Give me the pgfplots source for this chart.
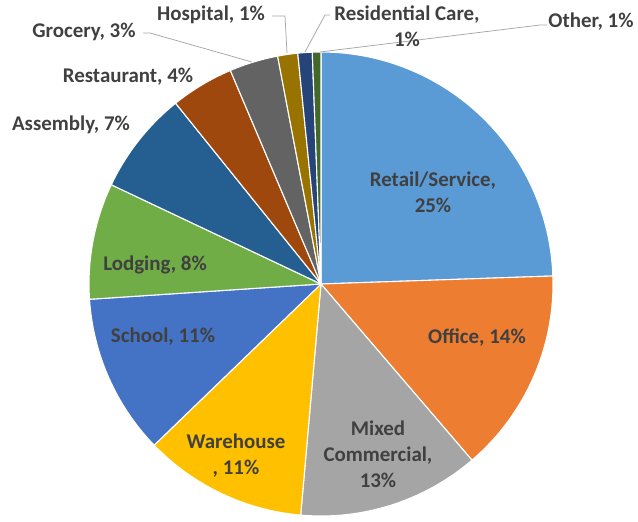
\documentclass[border=0pt]{standalone}
\usepackage{pgfplots}
\pgfplotsset{compat=1.18}
\usepackage{pgfplotstable}
\usepackage{fontspec}
\setmainfont{Carlito}

\definecolor{cRetail}{HTML}{5B9BD5}
\definecolor{cOffice}{HTML}{ED7D31}
\definecolor{cMixed}{HTML}{A5A5A5}
\definecolor{cWare}{HTML}{FFC000}
\definecolor{cSchool}{HTML}{4472C4}
\definecolor{cLodg}{HTML}{70AD47}
\definecolor{cAssem}{HTML}{255E91}
\definecolor{cRest}{HTML}{9E480E}
\definecolor{cGroc}{HTML}{636363}
\definecolor{cHosp}{HTML}{997300}
\definecolor{cResid}{HTML}{264478}
\definecolor{cOther}{HTML}{43682B}
\definecolor{lbl}{HTML}{404040}
\definecolor{leader}{HTML}{A6A6A6}

\pgfplotstableread[col sep=comma]{
label,value,color
Retail/Service,24.5,cRetail
Office,14.3,cOffice
Mixed Commercial,12.7,cMixed
Warehouse,11.4,cWare
School,11.2,cSchool
Lodging,8.1,cLodg
Assembly,7.2,cAssem
Restaurant,4.4,cRest
Grocery,3.4,cGroc
Hospital,1.4,cHosp
Residential Care,1.0,cResid
Other,0.6,cOther
}\piedata

\gdef\total{0}
\pgfplotstableforeachcolumnelement{value}\of\piedata\as\v{%
  \pgfmathsetmacro\t{\total+\v}\xdef\total{\t}}

\newcommand\piecx{321}
\newcommand\piecy{230}

\begin{document}
\begin{tikzpicture}
\begin{axis}[
  width=638bp, height=514bp, scale only axis,
  xmin=0, xmax=638, ymin=0, ymax=514,
  axis lines=none, clip=false,
]
\path (axis cs:0,0) rectangle (axis cs:638,514);
\gdef\curang{90}
\pgfplotsforeachungrouped \i in {0,...,11}{%
  \pgfplotstablegetelem{\i}{value}\of\piedata \let\v\pgfplotsretval
  \pgfplotstablegetelem{\i}{color}\of\piedata \let\c\pgfplotsretval
  \pgfmathsetmacro\endang{\curang - \v/\total*360}%
  \edef\temp{\noexpand\fill[\c, draw=white, line width=1.1pt, line join=round]
    (axis cs:\piecx,\piecy) -- ++(\curang:232bp)
    arc[start angle=\curang, end angle=\endang, radius=232bp] -- cycle;}%
  \temp
  \xdef\curang{\endang}%
}
\draw[leader, line width=0.75pt] (axis cs:143,481) -- (axis cs:150,481) -- (axis cs:252,452);
\draw[leader, line width=0.75pt] (axis cs:272,498) -- (axis cs:285,498) -- (axis cs:287,461);
\draw[leader, line width=0.75pt] (axis cs:330,499) -- (axis cs:325,499) -- (axis cs:305,462);
\draw[leader, line width=0.75pt] (axis cs:547,489) -- (axis cs:540,489) -- (axis cs:320,462);

\tikzset{lab/.style={text=lbl, font=\bfseries\fontsize{21}{26}\selectfont, align=center, inner sep=0pt}}
\node[lab] at (axis cs:433,322) {Retail/Service,\\25\%};
\node[lab] at (axis cs:477,176) {Office, 14\%};
\node[lab] at (axis cs:378,60) {Mixed\\Commercial,\\13\%};
\node[lab] at (axis cs:236,58) {Warehouse\\, 11\%};
\node[lab] at (axis cs:163,177) {School, 11\%};
\node[lab] at (axis cs:155,249) {Lodging, 8\%};
\node[lab] at (axis cs:71,389) {Assembly, 7\%};
\node[lab] at (axis cs:128,437) {Restaurant, 4\%};
\node[lab] at (axis cs:84,482) {Grocery, 3\%};
\node[lab] at (axis cs:211,499) {Hospital, 1\%};
\node[lab] at (axis cs:407,488) {Residential Care,\\1\%};
\node[lab] at (axis cs:591,492) {Other, 1\%};
\end{axis}
\end{tikzpicture}
\end{document}
